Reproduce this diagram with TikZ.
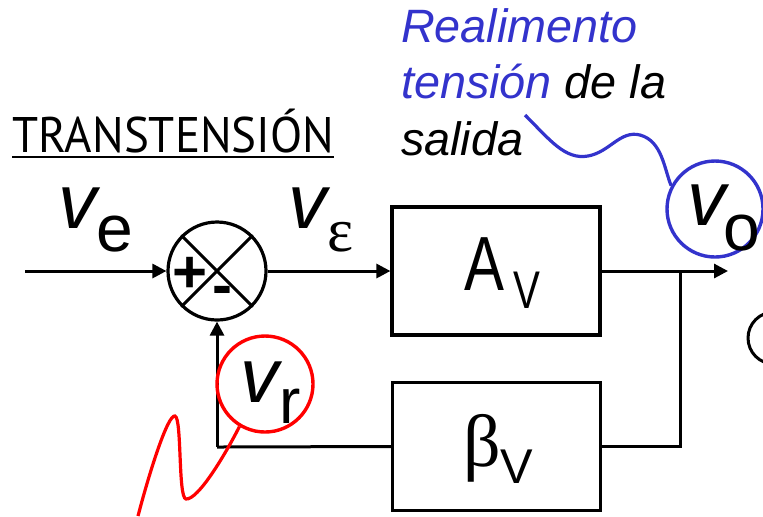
\documentclass[tikz,border=0pt]{standalone}
\usepackage{fontspec}
\setmainfont{Liberation Sans}
\newfontfamily\grk{Liberation Serif}
\newfontfamily\titfont{PT Sans}
\usetikzlibrary{arrows.meta}
\definecolor{fbblue}{RGB}{51,51,204}
\begin{document}
\begin{tikzpicture}[x=0.5pt,y=-0.5pt, line width=1.5pt,
  blk/.style={draw, minimum width=104pt, minimum height=64pt, inner sep=0, line width=1.6pt},
  sumnode/.style={draw, circle, minimum size=49pt, inner sep=0, line width=1.6pt},
  lbl/.style={anchor=base west, inner sep=0, outer sep=0},
  sgn/.style={inner sep=0, outer sep=0, font=\fontsize{30}{30}\selectfont\bfseries},
  arr/.style={-{Triangle[length=7pt,width=7pt]}},
  ring/.style={draw, circle, minimum size=48pt, inner sep=0, line width=1.7pt},
  wig/.style={line width=1.6pt},
]
\useasboundingbox (0,0) rectangle (763,516);

% title
\node[lbl] (title) at (12,152) {\scalebox{0.94}[1]{\titfont\fontsize{25}{26}\selectfont TRANSTENSIÓN}};
\draw[line width=1pt] ([yshift=-2.5pt]title.base west) -- ([yshift=-2.5pt]title.base east);

% annotation text
\node[lbl, text=fbblue] (r1) at (401,42) {\fontsize{23.4}{24}\selectfont\itshape Realimento};
\node[lbl] (r2) at (401,98) {\fontsize{23.4}{24}\selectfont\itshape \textcolor{fbblue}{tensión} de la};
\node[lbl] (r3) at (401,155) {\fontsize{23.4}{24}\selectfont\itshape salida};

% blocks
\node[sumnode] (sum) at (217,271) {};
\draw[line width=1.5pt] (sum.north west) -- (sum.south east);
\draw[line width=1.5pt] (sum.south west) -- (sum.north east);
\node[sgn] (plus) at (190,275) {+};
\node[sgn] (minus) at (222,296) {-};

\node[blk] (A) at (496,271) {};
\node[blk] (B) at (496.5,446.5) {};

% labels
\node[lbl] (ve) at (58,228) {\fontsize{38.5}{40}\selectfont\itshape v};
\node[lbl] (vesub) at (96,251) {\fontsize{33}{34}\selectfont e};
\node[lbl] (veps) at (288,228) {\fontsize{38.5}{40}\selectfont\itshape v};
\node[lbl] (vepssub) at (327,251) {\grk\fontsize{31}{32}\selectfont ε};
\node[lbl] (Alab) at (464,290) {\scalebox{0.78}[1]{\fontsize{38.4}{40}\selectfont A}};
\node[lbl] (Asub) at (513,308) {\scalebox{0.76}[1]{\fontsize{26.5}{28}\selectfont V}};
\node[lbl] (Blab) at (463,466) {\grk\fontsize{37}{38}\selectfont β};
\node[lbl] (Bsub) at (500,483) {\fontsize{24.4}{26}\selectfont V};

% connectors
\coordinate (in) at (25,271);
\coordinate (out) at (728,271);
\coordinate (jn) at (680,271);
\coordinate (fbc) at (217,447);
\draw[arr] (in) -- (sum.west);
\draw[arr] (sum.east) -- (A.west);
\draw[arr] (A.east) -- (out);
\draw (jn) |- (B.east);
\draw (B.west) -- (fbc);
\draw[arr] (fbc) -- (sum.south);

% red ring v_r
\node[ring, draw=red] (redring) at (265,384) {};
\node[lbl] (vr) at (240,402) {\fontsize{38.5}{40}\selectfont\itshape v};
\node[lbl] (vrsub) at (279,423) {\fontsize{32}{34}\selectfont r};
\coordinate (rq) at (138,516);
\draw[wig, red] (redring.239) .. controls (225,455) and (198,500) .. (186,499)
  .. controls (178,498) and (182,418) .. (175,416)
  .. controls (168,414) and (150,470) .. (rq);

% blue ring v_o
\node[ring, draw=fbblue] (bluering) at (715,209) {};
\node[lbl] (vo) at (687,225) {\fontsize{38.5}{40}\selectfont\itshape v};
\node[lbl] (vosub) at (723,250) {\fontsize{33}{34}\selectfont o};
\coordinate (bq) at (525,115);
\draw[wig, fbblue] (bq) .. controls (550,140) and (565,160) .. (588,156)
  .. controls (610,152) and (620,130) .. (640,135)
  .. controls (662,141) and (664,168) .. (bluering.152);

% partially visible ring at right edge
\node[draw, circle, minimum size=26pt, inner sep=0, line width=1.5pt] (cut) at (774,338) {};
\end{tikzpicture}
\end{document}
